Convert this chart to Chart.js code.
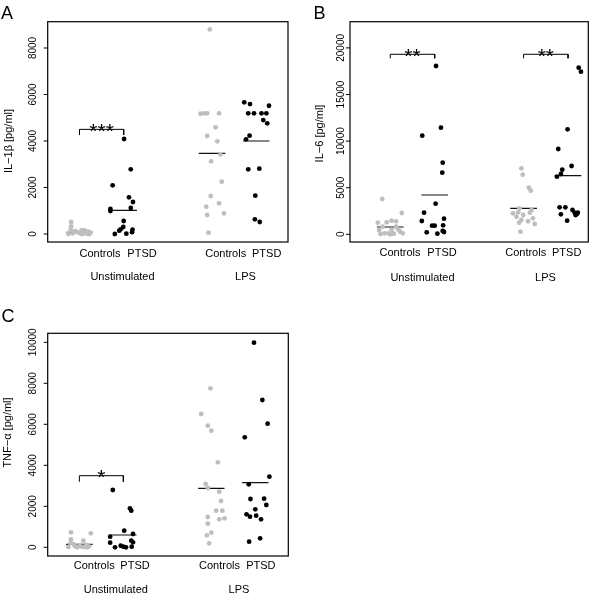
<!doctype html>
<html>
<head>
<meta charset="UTF-8" />
<title>Cytokines</title>
<script src="https://cdn.jsdelivr.net/npm/chart.js"></script>
<style>
  body { margin: 0; background: #fff; }
  .panel { position: absolute; width: 300px; height: 298px; }
</style>
</head>
<body>
<div class="panel" style="left:0;top:0"><canvas id="chartA" width="300" height="298"></canvas></div>
<div class="panel" style="left:300px;top:0"><canvas id="chartB" width="300" height="298"></canvas></div>
<div class="panel" style="left:0;top:298px"><canvas id="chartC" width="300" height="298"></canvas></div>

<script>
// shared categories
var groupPos = [1, 2, 4, 5];
var groupLabels = ['Controls', 'PTSD', 'Controls', 'PTSD'];
var conditionLabels = ['Unstimulated', 'LPS'];

// ---- panel A: IL-1β (pg/ml) ----
var tickA = [0, 2000, 4000, 6000, 8000];
var ctrlUnstimA = [520, 330, 190, 170, 150, 120, 100, 80, 60, 40, 30, 20, 10, 0, 0, 0];
var ctrlUnstimA_jit = [-0.19, -0.19, -0.2, 0.05, 0.12, -0.1, 0.2, -0.05, 0.25, 0.0, -0.15, 0.1, 0.18, -0.25, 0.05, 0.22];
var ptsdUnstimA = [4085, 2782, 2094, 1578, 1376, 1118, 1075, 989, 559, 301, 202, 142, 185, 80, 0, 14];
var ptsdUnstimA_jit = [0.01, 0.16, -0.25, 0.12, 0.21, 0.16, -0.3, -0.3, 0.0, -0.01, -0.07, -0.1, 0.2, 0.19, -0.2, 0.06];
var ctrlLpsA = [8800, 5173, 5190, 5190, 5190, 4588, 4214, 3986, 3427, 3126, 2249, 1634, 1320, 1174, 817, 890, 56];
var ctrlLpsA_jit = [-0.05, -0.26, -0.17, -0.11, 0.16, 0.08, -0.11, 0.12, 0.19, -0.02, 0.22, -0.03, 0.16, -0.13, -0.11, 0.27, -0.08];
var ptsdLpsA = [5663, 5590, 5517, 5190, 5190, 5190, 5190, 4902, 4760, 4227, 4072, 2782, 2808, 1647, 631, 516];
var ptsdLpsA_jit = [-0.27, -0.14, 0.29, -0.18, -0.05, 0.12, 0.23, 0.16, 0.25, -0.15, -0.23, -0.18, 0.07, -0.02, -0.03, 0.08];
var meanA = [75, 1018, 3470, 4000];
var bracketA = [4500, 4257];          // top, tick ends
var starsA = ['***'];

// ---- panel B: IL-6 (pg/ml) ----
var tickB = [0, 5000, 10000, 15000, 20000];
var ctrlUnstimB = [3788, 2285, 1459, 1395, 1288, 1245, 815, 815, 536, 461, 461, 279, 107, 107, 107, 60, 30, 0];
var ctrlUnstimB_jit = [-0.18, 0.26, 0.03, 0.13, -0.08, -0.28, -0.17, 0.13, 0.18, -0.25, 0.03, 0.22, -0.13, -0.04, 0.28, 0.08, -0.22, 0.0];
var ptsdUnstimB = [18058, 11438, 10580, 7683, 6610, 3283, 2318, 1427, 1674, 923, 923, 966, 215, 64, 354, 247];
var ptsdUnstimB_jit = [0.03, 0.14, -0.28, 0.18, 0.17, 0.02, -0.24, -0.29, 0.21, -0.06, 0.0, 0.19, -0.18, 0.06, 0.18, 0.21];
var ctrlLpsB = [7082, 6395, 5000, 4678, 2790, 2253, 2360, 1888, 2071, 2318, 2607, 1534, 1245, 1717, 1105, 1400, 279];
var ctrlLpsB_jit = [-0.05, -0.02, 0.12, 0.16, -0.09, -0.24, -0.12, -0.16, -0.01, 0.14, 0.18, -0.05, -0.1, 0.21, 0.25, 0.1, -0.07];
var ptsdLpsB = [17876, 17447, 11267, 9153, 7329, 6932, 6470, 6181, 2897, 2897, 2146, 1459, 2607, 2318, 2178, 2318, 2071];
var ptsdLpsB_jit = [0.24, 0.29, -0.01, -0.22, 0.08, -0.13, -0.16, -0.25, -0.19, -0.06, -0.16, -0.02, 0.1, 0.15, 0.2, 0.22, 0.17];
var meanB = [783, 4217, 2790, 6288];
var bracketB = [19314, 18885];
var starsB = ['**', '**'];

// ---- panel C: TNF-α (pg/ml) ----
var tickC = [0, 2000, 4000, 6000, 8000, 10000];
var ctrlUnstimC = [732, 683, 390, 322, 210, 150, 120, 90, 60, 50, 30, 20, 10, 0, 0];
var ctrlUnstimC_jit = [-0.19, 0.26, -0.19, 0.09, -0.2, -0.13, 0.15, 0.0, -0.1, 0.22, 0.05, -0.25, 0.12, -0.05, 0.18];
var ptsdUnstimC = [2795, 1902, 1785, 810, 517, 649, 322, 244, 224, 0, 78, 29, 0, 29];
var ptsdUnstimC_jit = [-0.24, 0.15, 0.18, 0.02, -0.3, 0.22, 0.18, 0.22, -0.3, -0.19, -0.06, 0.0, 0.06, 0.19];
var ctrlLpsC = [7756, 6502, 5932, 5688, 4146, 3088, 2893, 2712, 2258, 1785, 1785, 1366, 1415, 1478, 1151, 712, 585, 195];
var ctrlLpsC_jit = [-0.02, -0.23, -0.08, 0.0, 0.15, -0.13, -0.08, 0.18, 0.22, 0.11, 0.25, 0.18, 0.3, -0.08, -0.08, 0.0, -0.1, -0.05];
var ptsdLpsC = [9980, 7185, 6029, 5366, 3444, 3073, 2356, 2371, 2063, 1854, 1610, 1493, 1541, 1366, 439, 273];
var ptsdLpsC_jit = [-0.03, 0.16, 0.28, -0.24, 0.32, -0.15, -0.11, 0.2, 0.25, 0.0, -0.2, -0.12, 0.02, 0.13, 0.11, -0.14];
var meanC = [146, 600, 2878, 3151];
var bracketC = [3493, 3200];
var starsC = ['*'];

var FONT = '"Liberation Sans", Arial, Helvetica, sans-serif';
var GREY = '#bebebe';

function pts(vals, jit, pos) {
    return vals.map(function (v, i) { return { x: pos + jit[i], y: v }; });
}

function makePanel(id, p) {
    var datasets = [];
    var colors = [GREY, '#000', GREY, '#000'];
    for (var g = 0; g < 4; g++) {
        datasets.push({
            data: pts(p.groups[g][0], p.groups[g][1], groupPos[g]),
            backgroundColor: colors[g],
            borderWidth: 0,
            pointRadius: 2.4,
            pointHoverRadius: 2.4
        });
        // mean line
        datasets.push({
            type: 'line',
            data: [{ x: groupPos[g] - 0.3, y: p.means[g] }, { x: groupPos[g] + 0.3, y: p.means[g] }],
            borderColor: '#111',
            borderWidth: 1.2,
            pointRadius: 0,
            showLine: true
        });
    }
    // significance brackets
    p.bracketAt.forEach(function (left) {
        datasets.push({
            type: 'line',
            data: [
                { x: left, y: p.bracket[1] }, { x: left, y: p.bracket[0] },
                { x: left + 1, y: p.bracket[0] }, { x: left + 1, y: p.bracket[1] }
            ],
            borderColor: '#000',
            borderWidth: 1,
            pointRadius: 0,
            showLine: true
        });
    });

    var decor = {
        id: 'decor' + id,
        afterDraw: function (chart) {
            var c = chart.ctx, a = chart.chartArea;
            var xs = chart.scales.x, ys = chart.scales.y;
            c.save();
            c.strokeStyle = '#000';
            c.lineWidth = 1.2;
            c.strokeRect(a.left, a.top, a.right - a.left, a.bottom - a.top);

            // y ticks + rotated labels
            c.fillStyle = '#000';
            c.font = '10px ' + FONT;
            c.lineWidth = 1;
            p.ticks.forEach(function (t) {
                var y = ys.getPixelForValue(t);
                c.beginPath();
                c.moveTo(a.left - 4, y);
                c.lineTo(a.left, y);
                c.stroke();
                c.save();
                c.translate(p.tickLabelX, y);
                c.rotate(-Math.PI / 2);
                c.textAlign = 'center';
                c.textBaseline = 'middle';
                c.fillText(String(t), 0, 0);
                c.restore();
            });

            // axis title
            c.font = '11px ' + FONT;
            c.save();
            c.translate(p.title[1], p.title[2]);
            c.rotate(-Math.PI / 2);
            c.textAlign = 'center';
            c.textBaseline = 'middle';
            c.fillText(p.title[0], 0, 0);
            c.restore();

            // x labels
            c.textAlign = 'center';
            c.textBaseline = 'middle';
            groupLabels.forEach(function (lab, i) {
                c.fillText(lab, p.labelX[i], p.labelY);
            });
            conditionLabels.forEach(function (lab, i) {
                c.fillText(lab, p.condX[i], p.condY);
            });

            // stars
            c.font = '21px ' + FONT;
            c.textBaseline = 'alphabetic';
            p.bracketAt.forEach(function (left, i) {
                c.fillText(p.stars[i], xs.getPixelForValue(left + 0.5), ys.getPixelForValue(p.bracket[0]) + 8.5);
            });

            // panel letter
            c.font = '18px ' + FONT;
            c.textAlign = 'left';
            c.fillText(p.letter[0], p.letter[1], p.letter[2]);
            c.restore();
        }
    };

    return new Chart(document.getElementById(id), {
        type: 'scatter',
        data: { datasets: datasets },
        options: {
            responsive: false,
            animation: false,
            events: [],
            layout: { padding: p.pad },
            plugins: { legend: { display: false }, tooltip: { enabled: false } },
            scales: {
                x: { type: 'linear', display: false, min: p.xlim[0], max: p.xlim[1] },
                y: { type: 'linear', display: false, min: p.ylim[0], max: p.ylim[1] }
            }
        },
        plugins: [decor]
    });
}

makePanel('chartA', {
    groups: [[ctrlUnstimA, ctrlUnstimA_jit], [ptsdUnstimA, ptsdUnstimA_jit], [ctrlLpsA, ctrlLpsA_jit], [ptsdLpsA, ptsdLpsA_jit]],
    means: meanA, ticks: tickA, bracket: bracketA, bracketAt: [1], stars: starsA,
    xlim: [0.28, 5.72], ylim: [-344, 9131],
    pad: { left: 47.7, right: 12, top: 21.7, bottom: 56 },
    tickLabelX: 33, title: ['IL\u22121\u03b2 [pg/ml]', 9, 141],
    labelX: [100, 142, 225.7, 266.7], labelY: 254, condX: [122.5, 245.5], condY: 277,
    letter: ['A', 1, 18.5]
});

makePanel('chartB', {
    groups: [[ctrlUnstimB, ctrlUnstimB_jit], [ptsdUnstimB, ptsdUnstimB_jit], [ctrlLpsB, ctrlLpsB_jit], [ptsdLpsB, ptsdLpsB_jit]],
    means: meanB, ticks: tickB, bracket: bracketB, bracketAt: [1, 4], stars: starsB,
    xlim: [0.094, 5.456], ylim: [-826, 22811],
    pad: { left: 50, right: 11.7, top: 21.7, bottom: 56 },
    tickLabelX: 41, title: ['IL\u22126 [pg/ml]', 19.5, 133.5],
    labelX: [100, 142, 225.7, 266.7], labelY: 253, condX: [122.5, 245.5], condY: 278,
    letter: ['B', 13.5, 19]
});

makePanel('chartC', {
    groups: [[ctrlUnstimC, ctrlUnstimC_jit], [ptsdUnstimC, ptsdUnstimC_jit], [ctrlLpsC, ctrlLpsC_jit], [ptsdLpsC, ptsdLpsC_jit]],
    means: meanC, ticks: tickC, bracket: bracketC, bracketAt: [1], stars: starsC,
    xlim: [0.28, 5.75], ylim: [-424, 10439],
    pad: { left: 47.7, right: 11.7, top: 35.3, bottom: 40 },
    tickLabelX: 33, title: ['TNF\u2212\u03b1 [pg/ml]', 8, 134.5],
    labelX: [94.2, 135, 219.5, 260.8], labelY: 267.8, condX: [115.8, 239], condY: 292,
    letter: ['C', 1.5, 23.5]
});
</script>
</body>
</html>
